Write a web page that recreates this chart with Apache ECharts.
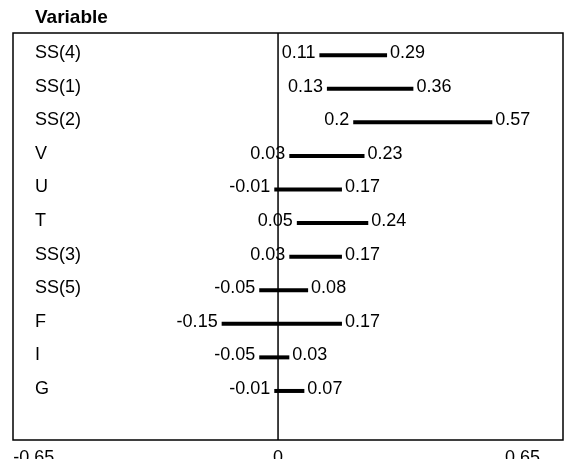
<!DOCTYPE html>
<html>
<head>
<meta charset="utf-8">
<script src="https://cdn.jsdelivr.net/npm/echarts@6/dist/echarts.min.js"></script>
<style>
  html, body { margin: 0; padding: 0; background: #fff; }
  #main { width: 566px; height: 459px; }
</style>
</head>
<body>
<div id="main"></div>
<script>
// 变量名 (从上到下)
var variables = ['SS(4)', 'SS(1)', 'SS(2)', 'V', 'U', 'T', 'SS(3)', 'SS(5)', 'F', 'I', 'G'];
// 区间下限 / 上限
var lowVals = [0.11, 0.13, 0.2, 0.03, -0.01, 0.05, 0.03, -0.05, -0.15, -0.05, -0.01];
var highVals = [0.29, 0.36, 0.57, 0.23, 0.17, 0.24, 0.17, 0.08, 0.17, 0.03, 0.07];
// x 轴刻度标签
var xTicks = [-0.65, 0, 0.65];

var chart = echarts.init(document.getElementById('main'));

// 行号作为 y 值 (0 = 最上面一行)
var rowIdx = variables.map(function (v, i) { return i; });
var seriesData = variables.map(function (v, i) {
    return [lowVals[i], highVals[i], rowIdx[i]];
});

var fontFam = '"Liberation Sans", Arial, sans-serif';

// 区间线 + 两端数值
function renderItem(params, api) {
    var p1 = api.coord([api.value(0), api.value(2)]);
    var p2 = api.coord([api.value(1), api.value(2)]);
    return {
        type: 'group',
        children: [
            {
                type: 'line',
                shape: { x1: p1[0], y1: p1[1] + 2, x2: p2[0], y2: p2[1] + 2 },
                style: { stroke: '#000', lineWidth: 4 }
            },
            {
                type: 'text',
                x: p1[0] - 4, y: p1[1],
                style: {
                    text: String(api.value(0)), align: 'right', verticalAlign: 'middle',
                    fill: '#000', font: '18px ' + fontFam
                }
            },
            {
                type: 'text',
                x: p2[0] + 3, y: p2[1],
                style: {
                    text: String(api.value(1)), align: 'left', verticalAlign: 'middle',
                    fill: '#000', font: '18px ' + fontFam
                }
            }
        ]
    };
}

// 零线
function renderZero(params, api) {
    var cs = params.coordSys;
    var x = api.coord([0, 0])[0];
    return {
        type: 'line',
        shape: { x1: x, y1: cs.y, x2: x, y2: cs.y + cs.height },
        style: { stroke: '#000', lineWidth: 1.5 }
    };
}

var option = {
    animation: false,
    backgroundColor: '#fff',
    title: {
        text: 'Variable',
        left: 30, top: 3,
        textStyle: { fontSize: 19, fontWeight: 'bold', color: '#000', fontFamily: fontFam }
    },
    grid: {
        left: 13, right: 3, top: 33, bottom: 19,
        containLabel: false,
        outerBoundsMode: 'none',
        show: true, borderColor: '#000', borderWidth: 1.5
    },
    xAxis: {
        type: 'value',
        min: -0.705, max: 0.758,
        axisLine: { show: false },
        axisTick: { show: false },
        splitLine: { show: false },
        axisLabel: {
            customValues: xTicks,
            margin: 9,
            color: '#000', fontSize: 18, fontFamily: fontFam,
            formatter: function (v) { return String(v); }
        }
    },
    yAxis: {
        type: 'value',
        inverse: true,
        min: -0.6, max: 11.52,
        axisLine: { show: false },
        axisTick: { show: false },
        splitLine: { show: false },
        axisLabel: {
            customValues: rowIdx,
            inside: true, margin: 22,
            color: '#000', fontSize: 18, fontFamily: fontFam,
            formatter: function (v) { return variables[Math.round(v)]; }
        }
    },
    series: [
        {
            type: 'custom',
            renderItem: renderZero,
            data: [[0, 0]],
            z: 3
        },
        {
            type: 'custom',
            renderItem: renderItem,
            encode: { x: [0, 1], y: 2 },
            data: seriesData,
            z: 2
        }
    ]
};

chart.setOption(option);
</script>
</body>
</html>
